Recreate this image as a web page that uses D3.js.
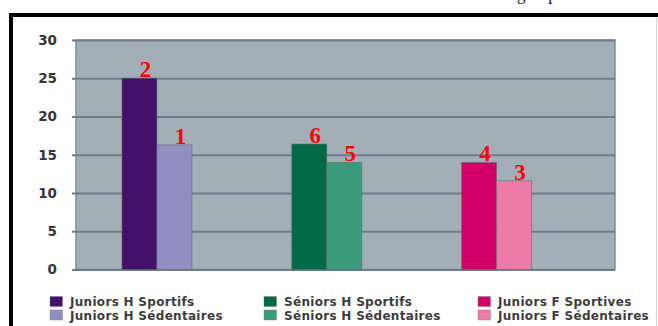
<!DOCTYPE html>
<html>
<head>
<meta charset="utf-8">
<script src="https://cdn.jsdelivr.net/npm/d3@7/dist/d3.min.js"></script>
<style>
  html, body { margin: 0; padding: 0; background: #fff; overflow: hidden; }
  svg { display: block; }
</style>
</head>
<body>
<script>
// Group categories and the two series per group
const groups = ["Juniors H", "Séniors H", "Juniors F"];
const activeLabels = ["Juniors H Sportifs", "Séniors H Sportifs", "Juniors F Sportives"];
const sedentaryLabels = ["Juniors H Sédentaires", "Séniors H Sédentaires", "Juniors F Sédentaires"];
const activeValues = [25, 16.4, 14.0];
const sedentaryValues = [16.3, 14.0, 11.6];
// Rank annotations written above the bars
const activeRanks = [2, 6, 4];
const sedentaryRanks = [1, 5, 3];
const yTicks = [0, 5, 10, 15, 20, 25, 30];
const activeColors = ["#43106a", "#006a46", "#d3006a"];
const sedentaryColors = ["#8f8fc2", "#3b9a7a", "#ec7ba5"];

const W = 658, H = 326;
const svg = d3.select("body").append("svg").attr("width", W).attr("height", H);

// Running text of the page above the figure, cut off by the frame edge
svg.append("text")
  .attr("x", 517).attr("y", 0)
  .attr("font-family", "Liberation Serif, serif")
  .attr("font-size", 17)
  .attr("fill", "#111")
  .text("groupe");

// Black frame (top and left edges visible)
svg.append("rect")
  .attr("x", 11).attr("y", 15)
  .attr("width", W + 20).attr("height", H + 20)
  .attr("fill", "#fff")
  .attr("stroke", "#000")
  .attr("stroke-width", 4);
svg.append("line")
  .attr("x1", 656.5).attr("x2", 656.5).attr("y1", 17).attr("y2", H)
  .attr("stroke", "#d6d6d6").attr("stroke-width", 1);

const plot = { left: 76, right: 615, top: 40, bottom: 269.5 };

const y = d3.scaleLinear().domain([0, 30]).range([plot.bottom, plot.top]);
const x0 = d3.scaleBand().domain(groups)
  .range([plot.left, plot.right])
  .paddingInner(0.588).paddingOuter(0.381).align(0.355);
const x1 = d3.scaleBand().domain(["active", "sedentary"]).range([0, x0.bandwidth()]);

// Plot background
svg.append("rect")
  .attr("x", plot.left).attr("y", plot.top)
  .attr("width", plot.right - plot.left).attr("height", plot.bottom - plot.top)
  .attr("fill", "#a3afb7")
  .attr("stroke", "#7e8d98").attr("stroke-width", 1.5);

// Gridlines with short ticks on the left, via axis
const yAxis = svg.append("g")
  .attr("transform", `translate(${plot.right},0)`)
  .call(d3.axisLeft(y).tickValues(yTicks)
    .tickSize(plot.right - plot.left + 4).tickFormat(""));
yAxis.select(".domain").remove();
yAxis.selectAll(".tick line").attr("stroke", "#6d7d89").attr("stroke-width", 2);

// Tick labels
svg.append("g").selectAll("text")
  .data(yTicks).join("text")
  .attr("x", 57).attr("y", d => y(d))
  .attr("dy", "0.36em")
  .attr("text-anchor", "end")
  .attr("font-family", "DejaVu Sans, sans-serif")
  .attr("font-weight", "bold")
  .attr("font-size", 13.5)
  .attr("fill", "#363636")
  .text(d => d);

// Bars
const bars = [];
groups.forEach((g, i) => {
  bars.push({ g, key: "active", v: activeValues[i], c: activeColors[i], r: activeRanks[i] });
  bars.push({ g, key: "sedentary", v: sedentaryValues[i], c: sedentaryColors[i], r: sedentaryRanks[i] });
});

svg.append("g").selectAll("rect")
  .data(bars).join("rect")
  .attr("x", d => x0(d.g) + x1(d.key))
  .attr("y", d => y(d.v))
  .attr("width", x1.bandwidth())
  .attr("height", d => y(0) - y(d.v))
  .attr("fill", d => d.c)
  .attr("stroke", "rgba(95,105,115,0.55)")
  .attr("stroke-width", 1);

// Rank numbers in red
svg.append("g").selectAll("text")
  .data(bars).join("text")
  .attr("x", d => x0(d.g) + x1(d.key) + x1.bandwidth() / 2 + 6)
  .attr("y", d => y(d.v) - 1)
  .attr("text-anchor", "middle")
  .attr("font-family", "Liberation Serif, serif")
  .attr("font-weight", "bold")
  .attr("font-size", 23)
  .attr("fill", "#ff0000")
  .text(d => d.r);

// Legend: one column per group, two rows
const legendX = d3.scaleBand().domain(groups).range([50, 692]);
const legendRows = [
  { labels: activeLabels, colors: activeColors, y: 296.5 },
  { labels: sedentaryLabels, colors: sedentaryColors, y: 310 }
];
legendRows.forEach(row => {
  const g = svg.append("g");
  g.selectAll("rect").data(groups).join("rect")
    .attr("x", d => legendX(d)).attr("y", row.y)
    .attr("width", 12.5).attr("height", 10)
    .attr("fill", (d, i) => row.colors[i])
    .attr("stroke", "rgba(120,120,120,0.5)").attr("stroke-width", 0.8);
  g.selectAll("text").data(groups).join("text")
    .attr("x", d => legendX(d) + 20).attr("y", row.y + 9.5)
    .attr("font-family", "DejaVu Sans, sans-serif")
    .attr("font-weight", "bold")
    .attr("font-size", 12)
    .attr("letter-spacing", 0.3)
    .attr("fill", "#3d3d3d")
    .text((d, i) => row.labels[i]);
});
</script>
</body>
</html>
